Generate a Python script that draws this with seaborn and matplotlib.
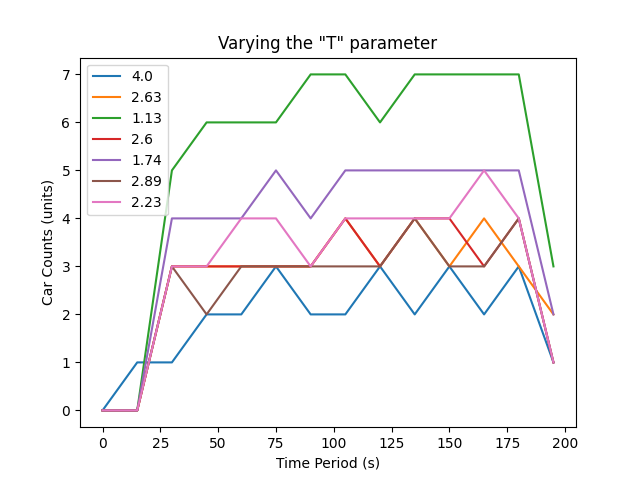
import matplotlib
import matplotlib.pyplot as plt
import seaborn as sns
import pandas as pd

matplotlib.use('Agg')

time_period = [0, 15, 30, 45, 60, 75, 90, 105, 120, 135, 150, 165, 180, 195]
t_labels = ["4.0", "2.63", "1.13", "2.6", "1.74", "2.89", "2.23"]
counts_40 = [0, 1, 1, 2, 2, 3, 2, 2, 3, 2, 3, 2, 3, 1]
counts_263 = [0, 0, 3, 3, 3, 3, 3, 4, 3, 4, 3, 4, 3, 2]
counts_113 = [0, 0, 5, 6, 6, 6, 7, 7, 6, 7, 7, 7, 7, 3]
counts_26 = [0, 0, 3, 3, 3, 3, 3, 4, 3, 4, 4, 3, 4, 1]
counts_174 = [0, 0, 4, 4, 4, 5, 4, 5, 5, 5, 5, 5, 5, 2]
counts_289 = [0, 0, 3, 2, 3, 3, 3, 3, 3, 4, 3, 3, 4, 1]
counts_223 = [0, 0, 3, 3, 4, 4, 3, 4, 4, 4, 4, 5, 4, 1]

series = [counts_40, counts_263, counts_113, counts_26, counts_174, counts_289, counts_223]

fig, ax = plt.subplots(figsize=(6.4, 4.8), dpi=100)
for label, values in zip(t_labels, series):
    df = pd.DataFrame({"time": time_period, "count": values})
    sns.lineplot(data=df, x="time", y="count", ax=ax, label=label)

ax.set_title('Varying the "T" parameter')
ax.set_xlabel("Time Period (s)")
ax.set_ylabel("Car Counts (units)")
ax.legend(loc="upper left")
plt.savefig("out.png")
plt.close()
